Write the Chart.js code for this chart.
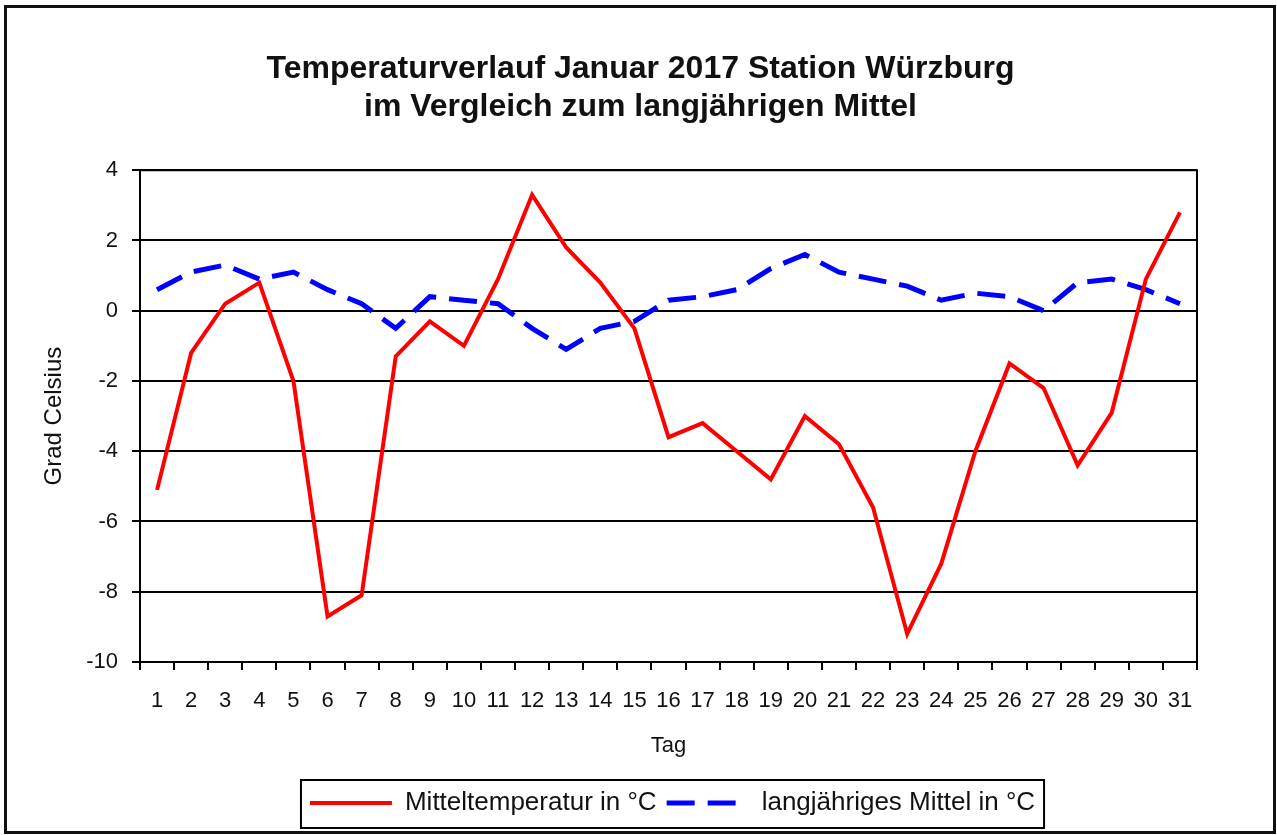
<!DOCTYPE html>
<html>
<head>
<meta charset="utf-8">
<title>Temperaturverlauf Januar 2017 Würzburg</title>
<script src="https://cdn.jsdelivr.net/npm/chart.js@4.4.1/dist/chart.umd.min.js"></script>
<style>
    html, body { margin: 0; padding: 0; background: #fff; }
    #wrap { width: 1277px; height: 835px; }
</style>
</head>
<body>
<div id="wrap"><canvas id="tempChart" width="1277" height="835"></canvas></div>
<script>
// Tage im Januar
const tage = ['1', '2', '3', '4', '5', '6', '7', '8', '9', '10', '11', '12', '13', '14', '15', '16',
    '17', '18', '19', '20', '21', '22', '23', '24', '25', '26', '27', '28', '29', '30', '31'];

// Tagesmittel 2017 (°C)
const mitteltemperatur = [-5.1, -1.2, 0.2, 0.8, -2.0, -8.7, -8.1, -1.3, -0.3, -1.0, 0.9, 3.3, 1.8, 0.8, -0.5, -3.6,
    -3.2, -4.0, -4.8, -3.0, -3.8, -5.6, -9.2, -7.2, -4.0, -1.5, -2.2, -4.4, -2.9, 0.9, 2.8];

// langjähriges Mittel (°C)
const langjMittel = [0.6, 1.1, 1.3, 0.9, 1.1, 0.6, 0.2, -0.5, 0.4, 0.3, 0.2, -0.5, -1.1, -0.5, -0.3, 0.3,
    0.4, 0.6, 1.2, 1.6, 1.1, 0.9, 0.7, 0.3, 0.5, 0.4, 0.0, 0.8, 0.9, 0.6, 0.2];

const titel = ['Temperaturverlauf Januar 2017 Station Würzburg', 'im Vergleich zum langjährigen Mittel'];
const yMin = -10, yMax = 4, yStep = 2;

const FONT = "'Liberation Sans', Arial, sans-serif";
const INK = '#111';

// Rahmen um Diagramm, Plotfläche und Legende
const framePlugin = {
    id: 'frames',
    beforeDraw(chart) {
        const ctx = chart.ctx;
        ctx.save();
        ctx.fillStyle = '#fff';
        ctx.fillRect(0, 0, chart.width, chart.height);
        ctx.restore();
    },
    afterLayout(chart) {
        // Titel und Legende wie im Original verschieben
        chart.legend.left += 74;
        chart.legend.right += 74;
        chart.titleBlock.left += 42;
        chart.titleBlock.right += 42;
    },
    afterDraw(chart) {
        const ctx = chart.ctx;
        const a = chart.chartArea;
        ctx.save();
        ctx.strokeStyle = '#000';
        ctx.lineWidth = 2;
        ctx.strokeRect(a.left, a.top, a.right - a.left, a.bottom - a.top);

        const boxes = chart.legend.legendHitBoxes;
        if (boxes && boxes.length) {
            let l = Infinity, r = -Infinity;
            boxes.forEach(b => { l = Math.min(l, b.left); r = Math.max(r, b.left + b.width); });
            ctx.strokeRect(l - 9, chart.legend.top, r - l + 18, chart.legend.bottom - chart.legend.top + 2);
        }

        ctx.lineWidth = 3;
        ctx.strokeStyle = '#111';
        ctx.strokeRect(5.5, 6.5, 1269, 826);
        ctx.restore();
    }
};

const ctx = document.getElementById('tempChart').getContext('2d');
new Chart(ctx, {
    type: 'line',
    data: {
        labels: tage,
        datasets: [{
            label: 'Mitteltemperatur in °C',
            data: mitteltemperatur,
            borderColor: 'rgb(255, 0, 0)',
            backgroundColor: 'rgb(255, 0, 0)',
            borderWidth: 4,
            pointRadius: 0,
            tension: 0
        }, {
            label: 'langjähriges Mittel in °C',
            data: langjMittel,
            borderColor: 'rgb(0, 0, 255)',
            backgroundColor: 'rgb(0, 0, 255)',
            borderWidth: 5,
            borderDash: [28, 13],
            pointRadius: 0,
            tension: 0
        }]
    },
    options: {
        responsive: false,
        animation: false,
        layout: { padding: { top: 0, right: 80, bottom: 9, left: 0 } },
        plugins: {
            title: {
                display: true,
                text: titel,
                color: INK,
                font: { family: FONT, size: 32, weight: 'bold', lineHeight: 1.16 },
                padding: { top: 51, bottom: 45 }
            },
            legend: {
                position: 'bottom',
                labels: {
                    color: INK,
                    font: { family: FONT, size: 26 },
                    usePointStyle: true,
                    pointStyle: 'line',
                    pointStyleWidth: 82,
                    boxWidth: 82,
                    padding: 10,
                    generateLabels(chart) {
                        const items = Chart.defaults.plugins.legend.labels.generateLabels(chart);
                        items.forEach(item => {
                            const ds = chart.data.datasets[item.datasetIndex];
                            item.lineDash = ds.borderDash || [];
                            item.lineWidth = ds.borderWidth;
                            item.strokeStyle = ds.borderColor;
                        });
                        return items;
                    }
                }
            },
            tooltip: { enabled: false }
        },
        scales: {
            x: {
                offset: true,
                afterFit(scale) { scale.height = 118; },
                grid: {
                    display: true,
                    offset: true,
                    drawOnChartArea: false,
                    drawTicks: true,
                    tickLength: 8,
                    color: '#000',
                    lineWidth: 2
                },
                border: { display: true, color: '#000', width: 2 },
                ticks: {
                    color: INK,
                    font: { family: FONT, size: 22 },
                    padding: 18,
                    maxRotation: 0,
                    autoSkip: false
                },
                title: {
                    display: true,
                    text: 'Tag',
                    color: INK,
                    font: { family: FONT, size: 22 },
                    padding: { top: 0, bottom: 21 }
                }
            },
            y: {
                min: yMin,
                max: yMax,
                afterFit(scale) { scale.width = 140; },
                grid: {
                    color: '#000',
                    lineWidth: 2,
                    tickLength: 8
                },
                border: { display: true, color: '#000', width: 2 },
                ticks: {
                    stepSize: yStep,
                    color: INK,
                    font: { family: FONT, size: 22 },
                    padding: 14
                },
                title: {
                    display: true,
                    text: 'Grad Celsius',
                    color: INK,
                    font: { family: FONT, size: 24 },
                    padding: { top: 40, bottom: 0 }
                }
            }
        }
    },
    plugins: [framePlugin]
});
</script>
</body>
</html>
